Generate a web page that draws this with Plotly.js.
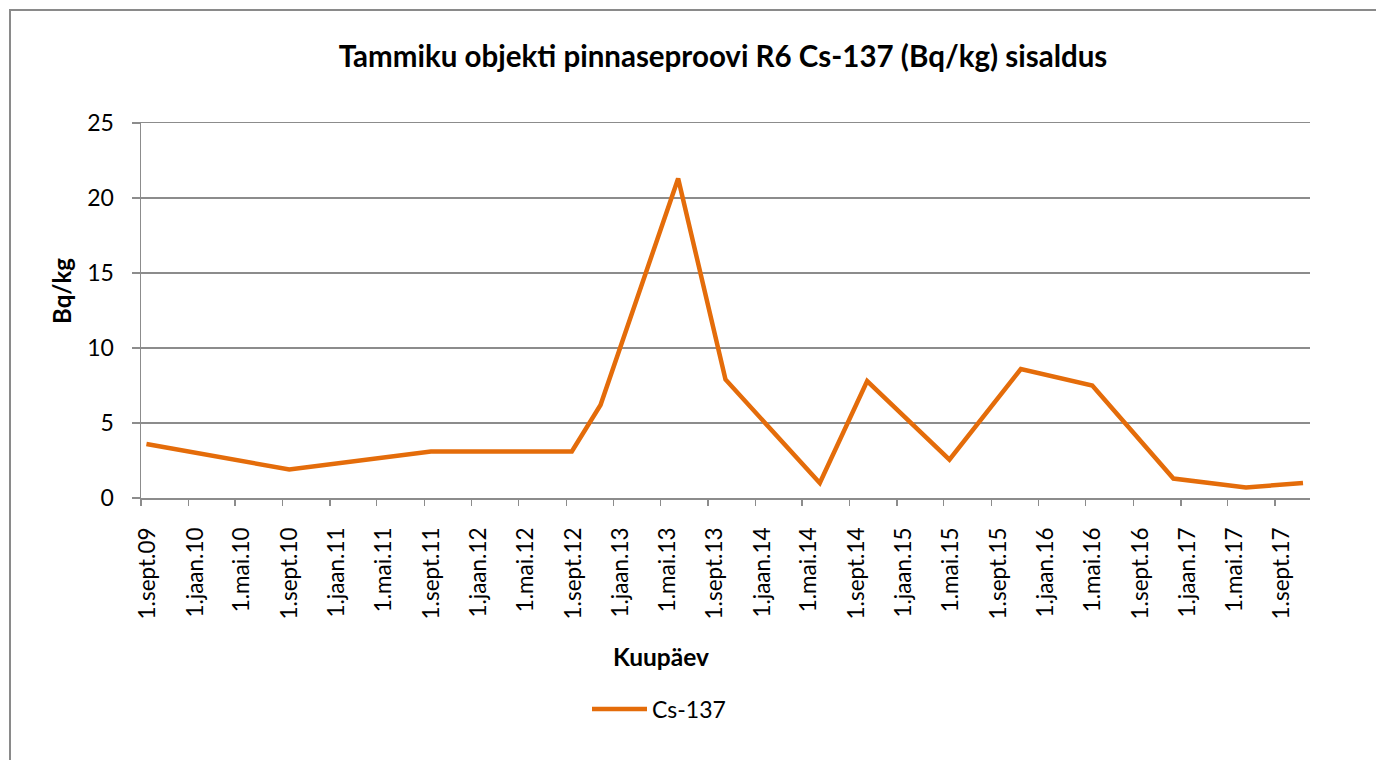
<!DOCTYPE html>
<html>
<head>
<meta charset="utf-8">
<script src="https://cdn.plot.ly/plotly-3.0.1.min.js"></script>
<style>
html,body{margin:0;padding:0;background:#fff;overflow:hidden;}
#chart{position:absolute;left:0;top:0;width:1376px;height:760px;}
#frame{position:absolute;left:9px;top:9px;width:1380px;height:770px;border:2px solid #8a8a8a;pointer-events:none;}
</style>
</head>
<body>
<div id="chart"></div>
<div id="frame"></div>
<script>
// Data
const dates = ['2009-09-15','2010-09-18','2011-09-18','2012-09-15','2012-11-28','2013-06-16','2013-10-16','2014-06-16','2014-10-16','2015-05-16','2015-11-16','2016-05-18','2016-12-13','2017-06-18','2017-11-12'];
const cs137 = [3.6, 1.9, 3.1, 3.1, 6.2, 21.3, 7.9, 1.0, 7.8, 2.55, 8.6, 7.5, 1.3, 0.7, 1.0];
const tickDates = ['2009-09-01','2010-01-01','2010-05-01','2010-09-01','2011-01-01','2011-05-01','2011-09-01','2012-01-01','2012-05-01','2012-09-01','2013-01-01','2013-05-01','2013-09-01','2014-01-01','2014-05-01','2014-09-01','2015-01-01','2015-05-01','2015-09-01','2016-01-01','2016-05-01','2016-09-01','2017-01-01','2017-05-01','2017-09-01'];
const tickLabels = ['1.sept.09','1.jaan.10','1.mai.10','1.sept.10','1.jaan.11','1.mai.11','1.sept.11','1.jaan.12','1.mai.12','1.sept.12','1.jaan.13','1.mai.13','1.sept.13','1.jaan.14','1.mai.14','1.sept.14','1.jaan.15','1.mai.15','1.sept.15','1.jaan.16','1.mai.16','1.sept.16','1.jaan.17','1.mai.17','1.sept.17'];
const yTicks = [0,5,10,15,20,25];

const FONT = 'Lato, Noto Sans, sans-serif';
const GRID = '#8c8c8c';

const trace = {
  x: dates, y: cs137, type: 'scatter', mode: 'lines', name: 'Cs-137',
  line: {color: '#E46C0A', width: 4.5}
};

const layout = {
  width: 1376, height: 760,
  margin: {l: 141, r: 66, t: 123, b: 262, pad: 0},
  paper_bgcolor: '#fff', plot_bgcolor: '#fff',
  font: {family: FONT, color: '#000', size: 23},
  title: {text: '<b>Tammiku objekti pinnaseproovi R6 Cs-137 (Bq/kg) sisaldus</b>', font: {family: FONT, size: 29.5, color: '#000'}, x: 723/1376, xanchor: 'center', xref: 'container', y: 1 - 57/760, yanchor: 'middle', yref: 'container'},
  xaxis: {
    type: 'date', range: ['2009-09-01', '2017-11-30'],
    tickmode: 'array', tickvals: tickDates, ticktext: tickLabels, tickangle: -90,
    ticks: 'outside', ticklen: 6, tickwidth: 1.5, tickcolor: GRID,
    ticklabelstandoff: 13, ticklabelshift: 7,
    showline: true, mirror: true, linecolor: GRID, linewidth: 1.5, showgrid: false, zeroline: false,
    tickfont: {family: FONT, size: 22.5, color: '#000'}
  },
  yaxis: {
    range: [0, 25], tickmode: 'array', tickvals: yTicks, ticks: 'outside', ticklen: 8, tickwidth: 1.5, tickcolor: GRID,
    ticklabelstandoff: 13,
    showline: true, linecolor: GRID, linewidth: 1.5, showgrid: true, gridcolor: GRID, gridwidth: 1.5, zeroline: false,
    tickfont: {family: FONT, size: 23, color: '#000'}
  },
  annotations: [{
    text: '<b>Bq/kg</b>', xref: 'paper', yref: 'paper', x: -(141-61)/1169, y: (498-291)/375, xanchor: 'center', yanchor: 'middle', textangle: -90, showarrow: false,
    font: {family: FONT, size: 24, color: '#000'}
  }, {
    text: '<b>Kuupäev</b>', xref: 'paper', yref: 'paper', x: (661-141)/1169, y: -(656-498)/375, xanchor: 'center', yanchor: 'middle', showarrow: false,
    font: {family: FONT, size: 24.5, color: '#000'}
  }],
  showlegend: true,
  legend: {orientation: 'h', x: (587-141)/1169, xanchor: 'left', y: -(709-498)/375, yanchor: 'middle', itemwidth: 55, font: {family: FONT, size: 23, color: '#000'}, bgcolor: 'rgba(0,0,0,0)'}
};

Plotly.newPlot('chart', [trace], layout, {displayModeBar: false, staticPlot: true});
</script>
</body>
</html>
